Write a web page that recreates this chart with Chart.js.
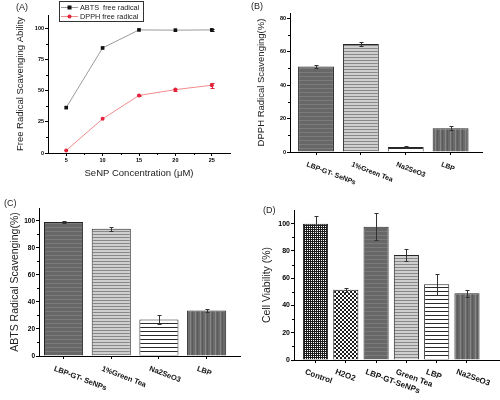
<!DOCTYPE html>
<html>
<head>
<meta charset="utf-8">
<script src="https://cdn.jsdelivr.net/npm/chart.js@4"></script>
<style>
html, body { margin: 0; padding: 0; background: #fff; }
#wrap { position: relative; width: 500px; height: 400px; overflow: hidden; }
canvas { position: absolute; }
</style>
</head>
<body>
<div id="wrap">
  <canvas id="chartA" width="250" height="195" style="left:0;top:0"></canvas>
  <canvas id="chartB" width="250" height="195" style="left:250px;top:0"></canvas>
  <canvas id="chartC" width="250" height="205" style="left:0;top:195px"></canvas>
  <canvas id="chartD" width="250" height="205" style="left:250px;top:195px"></canvas>
</div>
<script>
// (A) scavenging vs concentration
let concLabels = [5, 10, 15, 20, 25];
let abtsCurve = [36.5, 84.5, 99, 98.8, 99];
let abtsCurveErr = [0, 0, 0, 0, 0.6];
let dpphCurve = [2, 27.5, 46.3, 51, 54.5];
let dpphCurveErr = [0, 0, 0.6, 0.8, 2];
let ticksA = [0, 25, 50, 75, 100];

// (B) / (C) scavenging per sample
let scavLabels = ["LBP-GT- SeNPs", "1%Green Tea", "Na2SeO3", "LBP"];
let dpphBars = [51, 64.5, 3, 14.2];
let dpphBarsErr = [0.8, 1.4, 0.6, 1.2];
let abtsBars = [99, 94, 27, 33.6];
let abtsBarsErr = [0.8, 1.5, 3, 1];
let ticksB = [0, 20, 40, 60, 80];
let ticksC = [0, 20, 40, 60, 80, 100];

// (D) cell viability
let cellLabels = ["Control", "H2O2", "LBP-GT-SeNPs", "Green Tea", "LBP", "Na2SeO3"];
let viability = [100, 51.5, 97.8, 77, 55.5, 49];
let viabilityErr = [5.5, 1.5, 9.7, 4.5, 7.5, 2.7];
let ticksD = [0, 20, 40, 60, 80, 100];

const FONT = "'Liberation Sans', Arial, sans-serif";

function makePattern(w, h, draw) {
    let c = document.createElement("canvas");
    c.width = w;
    c.height = h;
    let g = c.getContext("2d");
    draw(g);
    return g.createPattern(c, "repeat");
}

let darkH = makePattern(4, 4, g => {
    g.fillStyle = "#676767"; g.fillRect(0, 0, 4, 4);
    g.fillStyle = "#7b7b7b"; g.fillRect(0, 0, 4, 1);
});
let lightH = makePattern(4, 3, g => {
    g.fillStyle = "#cfcfcf"; g.fillRect(0, 0, 4, 3);
    g.fillStyle = "#888888"; g.fillRect(0, 0, 4, 1);
});
let whiteH = makePattern(4, 4, g => {
    g.fillStyle = "#ffffff"; g.fillRect(0, 0, 4, 4);
    g.fillStyle = "#2a2a2a"; g.fillRect(0, 0, 4, 1);
});
let darkV = makePattern(5, 4, g => {
    g.fillStyle = "#6a6a6a"; g.fillRect(0, 0, 5, 4);
    g.fillStyle = "#868686"; g.fillRect(0, 0, 1, 4);
    g.fillStyle = "#5a5a5a"; g.fillRect(2, 0, 1, 4);
});
let denseCheck = makePattern(4, 4, g => {
    g.fillStyle = "#1c1c1c"; g.fillRect(0, 0, 4, 4);
    g.fillStyle = "#ffffff";
    g.fillRect(1, 1, 1, 1); g.fillRect(3, 3, 1, 1);
    g.fillRect(1, 3, 1, 1); g.fillRect(3, 1, 1, 1);
});
let openCheck = makePattern(4, 4, g => {
    g.fillStyle = "#ffffff"; g.fillRect(0, 0, 4, 4);
    g.fillStyle = "#1c1c1c";
    g.fillRect(0, 0, 2, 2); g.fillRect(2, 2, 2, 2);
});

// error bars on top of bars / points
const errorBarPlugin = {
    id: "errorBars",
    afterDatasetsDraw(chart) {
        let ctx = chart.ctx;
        let ys = chart.scales.y;
        chart.data.datasets.forEach((ds, di) => {
            if (!ds.errors) return;
            let meta = chart.getDatasetMeta(di);
            ctx.save();
            ctx.strokeStyle = ds.errorColor || "#333";
            ctx.lineWidth = 1;
            meta.data.forEach((el, i) => {
                let e = ds.errors[i];
                if (!e) return;
                let v = ds.data[i].y;
                let x = Math.round(el.x) + 0.5;
                let top = Math.round(ys.getPixelForValue(v + e)) + 0.5;
                let bot = Math.round(ys.getPixelForValue(v - e)) + 0.5;
                ctx.beginPath();
                ctx.moveTo(x, top); ctx.lineTo(x, bot);
                ctx.moveTo(x - 2, top); ctx.lineTo(x + 2, top);
                ctx.moveTo(x - 2, bot); ctx.lineTo(x + 2, bot);
                ctx.stroke();
            });
            ctx.restore();
        });
    }
};

// small in-between ticks, rotated category names, panel letter, legend
const decorPlugin = {
    id: "decor",
    afterDraw(chart, args, opts) {
        let ctx = chart.ctx;
        let area = chart.chartArea;
        ctx.save();
        ctx.strokeStyle = "#000";
        ctx.lineWidth = 1;
        ["x", "y"].forEach(id => {
            if (!opts.minor || !opts.minor.includes(id)) return;
            let s = chart.scales[id];
            let t = s.ticks.map(k => k.value);
            let step = t[1] - t[0];
            let vals = [t[0] - step / 2];
            t.forEach(v => vals.push(v + step / 2));
            vals.forEach(v => {
                if (v <= s.min || v >= s.max) return;
                let p = Math.round(s.getPixelForValue(v)) + 0.5;
                ctx.beginPath();
                if (id === "y") { ctx.moveTo(area.left - 2, p); ctx.lineTo(area.left, p); }
                else { ctx.moveTo(p, area.bottom); ctx.lineTo(p, area.bottom + 2); }
                ctx.stroke();
            });
        });
        if (opts.names) {
            let xs = chart.scales.x;
            ctx.fillStyle = "#111";
            ctx.font = opts.namesFont;
            ctx.textAlign = "left";
            ctx.textBaseline = "top";
            opts.names.forEach((n, i) => {
                ctx.save();
                ctx.translate(xs.getPixelForValue(i) + opts.dx, area.bottom + opts.dy);
                ctx.rotate(opts.angle * Math.PI / 180);
                ctx.fillText(n, 0, 0);
                ctx.restore();
            });
        }
        if (opts.tag) {
            ctx.fillStyle = "#222";
            ctx.font = "9px " + FONT;
            ctx.textAlign = "left";
            ctx.textBaseline = "middle";
            ctx.fillText(opts.tag, opts.tagX, opts.tagY);
        }
        if (opts.legend) {
            ctx.strokeStyle = "#333";
            ctx.strokeRect(59.5, 1.5, 84, 20);
            ctx.font = "7.3px " + FONT;
            ctx.textAlign = "left";
            ctx.textBaseline = "middle";
            chart.data.datasets.forEach((ds, i) => {
                let y = 7 + i * 9;
                ctx.strokeStyle = ds.borderColor;
                ctx.beginPath(); ctx.moveTo(61, y + 0.5); ctx.lineTo(78, y + 0.5); ctx.stroke();
                ctx.fillStyle = ds.pointBackgroundColor;
                if (ds.pointStyle === "rect") ctx.fillRect(67.5, y - 1.5, 4, 4);
                else { ctx.beginPath(); ctx.arc(69.5, y + 0.5, 2, 0, Math.PI * 2); ctx.fill(); }
                ctx.fillStyle = "#222";
                ctx.fillText(ds.label, 80, y + 0.5);
            });
        }
        ctx.restore();
    }
};

function yAxis(ticks, max, f, title, titleSize, titlePad, tickSize) {
    return {
        type: "linear",
        position: "left",
        min: 0,
        max: max,
        afterFit: s => { s.width = f.yw; },
        afterBuildTicks: s => { s.ticks = ticks.map(v => ({ value: v })); },
        grid: { display: true, drawOnChartArea: false, drawTicks: true, tickLength: 3, color: "#000" },
        border: { display: true, color: "#000", width: 1 },
        ticks: { color: "#000", padding: 1, font: { family: FONT, size: tickSize, weight: "bold" } },
        title: { display: true, text: title, color: "#222", font: { family: FONT, size: titleSize }, padding: { top: titlePad, bottom: 0 } }
    };
}

function barChart(id, names, values, errs, fills, f, yOpts, xr, barPct, deco) {
    let ctx = document.getElementById(id).getContext("2d");
    return new Chart(ctx, {
        type: "bar",
        data: {
            datasets: [{
                data: values.map((v, i) => ({ x: i, y: v })),
                errors: errs,
                backgroundColor: fills,
                borderColor: "#262626",
                borderWidth: 1,
                categoryPercentage: 1,
                barPercentage: barPct
            }]
        },
        options: {
            responsive: false,
            devicePixelRatio: 1,
            animation: false,
            events: [],
            layout: { padding: { left: 0, top: f.top, right: f.pr, bottom: 0 } },
            scales: {
                x: {
                    type: "linear",
                    min: xr[0],
                    max: xr[1],
                    offset: false,
                    afterFit: s => { s.height = f.xh; },
                    afterBuildTicks: s => { s.ticks = names.map((n, i) => ({ value: i })); },
                    grid: { display: true, offset: false, drawOnChartArea: false, drawTicks: true, tickLength: 3, color: "#000" },
                    border: { display: true, color: "#000", width: 1 },
                    ticks: { display: false }
                },
                y: yOpts
            },
            plugins: {
                legend: { display: false },
                tooltip: { enabled: false },
                decor: deco
            }
        },
        plugins: [errorBarPlugin, decorPlugin]
    });
}

// (A)
let frameA = { top: 15, pr: 20, yw: 48, xh: 42 };
new Chart(document.getElementById("chartA").getContext("2d"), {
    type: "line",
    data: {
        datasets: [{
            label: "ABTS  free radical",
            data: abtsCurve.map((v, i) => ({ x: concLabels[i], y: v })),
            errors: abtsCurveErr,
            borderColor: "#9a9a9a",
            borderWidth: 1,
            pointStyle: "rect",
            pointRadius: 2.6,
            pointBackgroundColor: "#111",
            pointBorderWidth: 0,
            errorColor: "#111"
        }, {
            label: "DPPH free radical",
            data: dpphCurve.map((v, i) => ({ x: concLabels[i], y: v })),
            errors: dpphCurveErr,
            borderColor: "#f08c8c",
            borderWidth: 1,
            pointStyle: "circle",
            pointRadius: 2,
            pointBackgroundColor: "#e3223a",
            pointBorderWidth: 0,
            errorColor: "#e3223a"
        }]
    },
    options: {
        responsive: false,
        devicePixelRatio: 1,
        animation: false,
        events: [],
        layout: { padding: { left: 0, top: frameA.top, right: frameA.pr, bottom: 0 } },
        scales: {
            x: {
                type: "linear",
                min: 2.5,
                max: 27.5,
                afterFit: s => { s.height = frameA.xh; },
                afterBuildTicks: s => { s.ticks = concLabels.map(v => ({ value: v })); },
                grid: { display: true, drawOnChartArea: false, drawTicks: true, tickLength: 3, color: "#000" },
                border: { display: true, color: "#000", width: 1 },
                ticks: { color: "#000", padding: 1, font: { family: FONT, size: 5.5, weight: "bold" } },
                title: { display: true, text: "SeNP Concentration (\u03bcM)", color: "#222", font: { family: FONT, size: 9.5 }, padding: { top: 0, bottom: 16 } }
            },
            y: yAxis(ticksA, 111, frameA, "Free Radical Scavenging Ability", 9.5, 15, 5.5)
        },
        plugins: {
            legend: { display: false },
            tooltip: { enabled: false },
            decor: { minor: ["x", "y"], tag: "(A)", tagX: 16, tagY: 8, legend: true }
        }
    },
    plugins: [errorBarPlugin, decorPlugin]
});

// (B)
let frameB = { top: 13, pr: 18, yw: 40, xh: 43 };
barChart("chartB", scavLabels, dpphBars, dpphBarsErr, [darkH, lightH, whiteH, darkV], frameB,
    yAxis(ticksB, 83, frameB, "DPPH Radical Scavenging(%)", 9.5, 6, 5.5),
    [-0.58, 3.7], 0.8,
    { minor: ["y"], names: scavLabels, namesFont: "bold 7px " + FONT, dx: -8, dy: 9, angle: 21, tag: "(B)", tagX: 1, tagY: 7 });

// (C)
let frameC = { top: 13, pr: 10, yw: 39, xh: 44 };
barChart("chartC", scavLabels, abtsBars, abtsBarsErr, [darkH, lightH, whiteH, darkV], frameC,
    yAxis(ticksC, 109.4, frameC, "ABTS Radical Scavenging(%)", 10.5, 8.5, 6.5),
    [-0.515, 3.7], 0.82,
    { minor: ["y"], names: scavLabels, namesFont: "bold 7.5px " + FONT, dx: -8, dy: 9, angle: 21, tag: "(C)", tagX: 4, tagY: 9 });

// (D)
let frameD = { top: 15, pr: 0, yw: 44, xh: 40 };
barChart("chartD", cellLabels, viability, viabilityErr, [denseCheck, openCheck, darkH, lightH, whiteH, darkV], frameD,
    yAxis(ticksD, 110, frameD, "Cell Viability (%)", 10.5, 10.5, 7),
    [-0.71, 6.09], 0.83,
    { minor: ["y"], names: cellLabels, namesFont: "bold 8px " + FONT, dx: -9, dy: 8, angle: 20, tag: "(D)", tagX: 13, tagY: 16 });
</script>
</body>
</html>
